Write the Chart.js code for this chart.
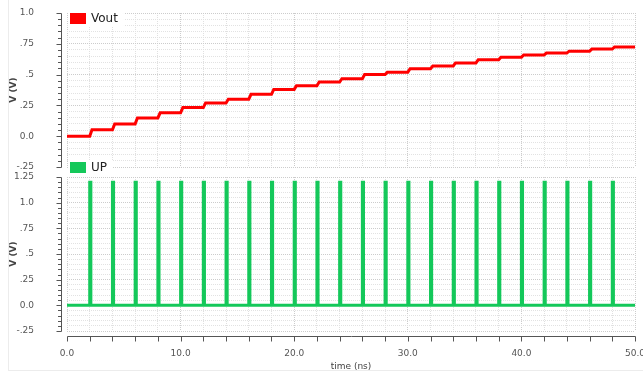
<!DOCTYPE html>
<html>
<head>
<meta charset="utf-8">
<script src="https://cdn.jsdelivr.net/npm/chart.js@4.4.1/dist/chart.umd.min.js"></script>
<style>
  html, body { margin: 0; padding: 0; background: #fff; }
  #frame { position: relative; width: 643px; height: 374px; overflow: hidden; }
  #edge { position: absolute; left: 8px; top: 0; width: 660px; height: 370px;
          border-left: 1px solid #ececec; border-bottom: 1px solid #ececec; }
  .panel { position: absolute; left: 0; width: 643px; }
  #top-panel { top: 0; height: 174px; }
  #bottom-panel { top: 160px; height: 214px; }
</style>
</head>
<body>
<div id="frame">
  <div id="edge"></div>
  <div class="panel" id="top-panel"><canvas id="chart-vout"></canvas></div>
  <div class="panel" id="bottom-panel"><canvas id="chart-up"></canvas></div>
</div>
<script>
// pulse edges (ns) and the Vout level held after each one
const pulseTimes = [2, 4, 6, 8, 10, 12, 14, 16, 18, 20, 22, 24, 26, 28, 30, 32, 34, 36, 38, 40, 42, 44, 46, 48];
const pulseHigh = 1.2;
const pulseWidth = 0.1;
const voutLevels = [0, 0.052, 0.10, 0.148, 0.19, 0.232, 0.27, 0.30, 0.34, 0.38, 0.41, 0.44, 0.467,
                    0.50, 0.52, 0.548, 0.57, 0.595, 0.62, 0.64, 0.66, 0.675, 0.69, 0.707, 0.725];
const timeEnd = 50;

const topTicks = [-0.25, 0, 0.25, 0.5, 0.75, 1.0];
const topLabels = ['-.25', '0.0', '.25', '.5', '.75', '1.0'];
const bottomTicks = [-0.25, 0, 0.25, 0.5, 0.75, 1.0, 1.25];
const bottomLabels = ['-.25', '0.0', '.25', '.5', '.75', '1.0', '1.25'];
const timeTicks = [0, 10, 20, 30, 40, 50];
const timeLabels = ['0.0', '10.0', '20.0', '30.0', '40.0', '50.0'];

const FONT = '"DejaVu Sans", sans-serif';

const voutPoints = [{ x: 0, y: voutLevels[0] }];
pulseTimes.forEach((t, i) => {
  voutPoints.push({ x: t, y: voutLevels[i] });
  voutPoints.push({ x: t + 0.2, y: voutLevels[i + 1] });
});
voutPoints.push({ x: timeEnd, y: voutLevels[voutLevels.length - 1] });

const upPoints = [{ x: 0, y: 0 }];
pulseTimes.forEach((t) => {
  upPoints.push({ x: t, y: 0 }, { x: t, y: pulseHigh }, { x: t + pulseWidth, y: pulseHigh }, { x: t + pulseWidth, y: 0 });
});
upPoints.push({ x: timeEnd, y: 0 });

const near = (list, v) => list.findIndex((a) => Math.abs(a - v) < 1e-6);

// legend drawn inside the plot, on a white patch
const panelLegend = {
  id: 'panelLegend',
  afterDraw(chart, args, opts) {
    const { ctx, chartArea } = chart;
    const ds = chart.data.datasets[0];
    const x = Math.round(chartArea.left) + 3;
    const y = Math.round(chartArea.top) + opts.dy;
    ctx.save();
    ctx.font = '12px ' + FONT;
    const w = ctx.measureText(ds.label).width;
    ctx.fillStyle = '#fff';
    ctx.fillRect(x - 2, y - 3, w + 29, 17);
    ctx.fillStyle = ds.borderColor;
    ctx.fillRect(x, y, 16, 11);
    ctx.fillStyle = '#222';
    ctx.textBaseline = 'middle';
    ctx.fillText(ds.label, x + 21, y + 6);
    ctx.restore();
  },
};

// axis lines sit a few px off the plot, with tick marks outside
const axisFrame = {
  id: 'axisFrame',
  afterDraw(chart, args, opts) {
    const { ctx, chartArea, scales } = chart;
    const ys = scales.y;
    ctx.save();
    ctx.strokeStyle = '#555';
    ctx.lineWidth = 1;
    ctx.beginPath();
    const ax = Math.round(chartArea.left) - 5.5;
    ctx.moveTo(ax, Math.round(ys.getPixelForValue(ys.max)) + 0.5);
    ctx.lineTo(ax, Math.round(ys.getPixelForValue(ys.min)) + 0.5);
    ys.ticks.forEach((t) => {
      const py = Math.round(ys.getPixelForValue(t.value)) + 0.5;
      const len = near(opts.majors, t.value) >= 0 ? 5 : 3.5;
      ctx.moveTo(ax - len, py);
      ctx.lineTo(ax, py);
    });
    if (opts.xAxis) {
      const xs = scales.x;
      const ay = Math.round(chartArea.bottom) + 5.5;
      ctx.moveTo(Math.round(xs.getPixelForValue(xs.min)) + 0.5, ay);
      ctx.lineTo(Math.round(xs.getPixelForValue(xs.max)) + 0.5, ay);
      xs.ticks.forEach((t) => {
        const px = Math.round(xs.getPixelForValue(t.value)) + 0.5;
        ctx.moveTo(px, ay);
        ctx.lineTo(px, ay + 5);
      });
    }
    ctx.stroke();
    ctx.restore();
  },
};

function panelOptions(cfg) {
  return {
    responsive: true,
    maintainAspectRatio: false,
    animation: false,
    layout: { padding: cfg.padding },
    plugins: {
      legend: { display: false },
      tooltip: { enabled: false },
      panelLegend: { dy: cfg.legendDy },
      axisFrame: { majors: cfg.ticks, xAxis: cfg.showTime },
    },
    elements: { point: { radius: 0 }, line: { tension: 0 } },
    scales: {
      x: {
        type: 'linear',
        min: 0,
        max: timeEnd,
        afterFit: (s) => {
          s.height = cfg.showTime ? 41 : 0;
          s.paddingLeft = 0;
          s.paddingRight = 0;
        },
        ticks: {
          display: cfg.showTime,
          stepSize: 2,
          autoSkip: false,
          maxRotation: 0,
          padding: 17,
          color: '#555',
          font: { family: FONT, size: 9 },
          callback: (v) => {
            const i = near(timeTicks, v);
            return i < 0 ? '' : timeLabels[i];
          },
        },
        grid: {
          drawTicks: false,
          color: (c) => (near(timeTicks, c.tick.value) >= 0 ? '#cccccc' : '#e0e0e0'),
        },
        border: { display: false, dash: [1, 1] },
        title: {
          display: cfg.showTime,
          text: 'time (ns)',
          color: '#444',
          font: { family: FONT, size: 9 },
          padding: 0,
        },
      },
      y: {
        min: cfg.ticks[0],
        max: cfg.ticks[cfg.ticks.length - 1],
        afterFit: (s) => {
          s.width = 60;
          s.paddingTop = 0;
          s.paddingBottom = 0;
        },
        ticks: {
          stepSize: 0.05,
          autoSkip: false,
          padding: 33,
          color: '#555',
          font: { family: FONT, size: 9 },
          callback: (v) => {
            const i = near(cfg.ticks, v);
            return i < 0 ? '' : cfg.labels[i];
          },
        },
        grid: {
          drawTicks: false,
          color: (c) => (near(cfg.ticks, c.tick.value) >= 0 ? '#cccccc' : '#e2e2e2'),
        },
        border: { display: false, dash: [1, 1] },
        title: {
          display: true,
          text: 'V (V)',
          color: '#444',
          font: { family: FONT, size: 9, weight: 'bold' },
          padding: { top: 1, bottom: 0 },
        },
      },
    },
  };
}

new Chart(document.getElementById('chart-vout'), {
  type: 'line',
  plugins: [panelLegend, axisFrame],
  data: {
    datasets: [{ label: 'Vout', data: voutPoints, borderColor: '#ff0000', borderWidth: 3 }],
  },
  options: panelOptions({
    ticks: topTicks, labels: topLabels, showTime: false, legendDy: 0,
    padding: { left: 7, right: 8, top: 13, bottom: 7 },
  }),
});

new Chart(document.getElementById('chart-up'), {
  type: 'line',
  plugins: [panelLegend, axisFrame],
  data: {
    datasets: [{ label: 'UP', data: upPoints, borderColor: '#14c85a', borderWidth: 3 }],
  },
  options: panelOptions({
    ticks: bottomTicks, labels: bottomLabels, showTime: true, legendDy: -15,
    padding: { left: 7, right: 8, top: 17, bottom: 2 },
  }),
});
</script>
</body>
</html>
